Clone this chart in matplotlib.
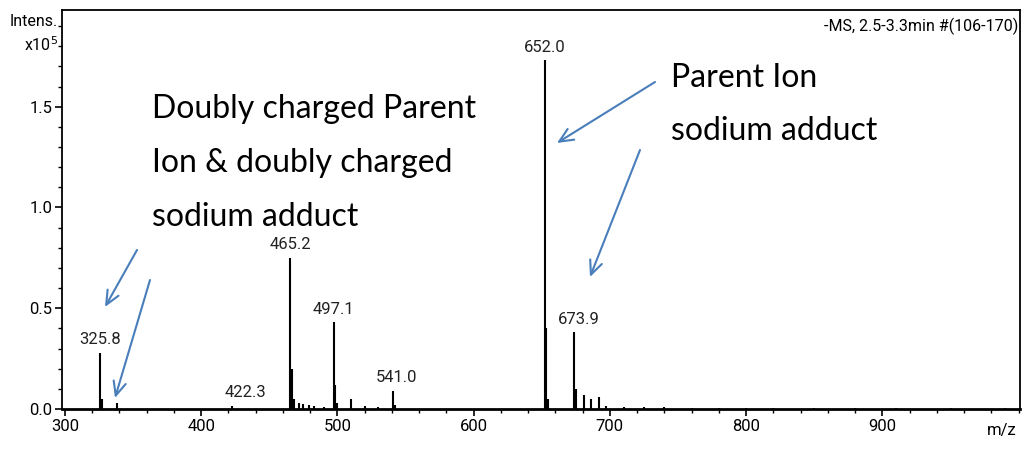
import matplotlib
matplotlib.use("Agg")
import matplotlib.pyplot as plt
from matplotlib.ticker import MultipleLocator

# spectrum sticks (m/z, intensity x10^5)
mz = [325.8, 327.2, 338.0, 422.3, 465.2, 466.4, 468.0, 472.0, 475.0, 479.0, 483.0, 490.0,
      497.1, 498.4, 500.0, 510.0, 520.0, 530.0, 541.0, 542.2, 652.0, 653.1, 654.5,
      673.9, 675.0, 681.0, 686.0, 692.0, 697.0, 710.0, 725.0, 740.0, 760.0, 780.0,
      800.0, 820.0, 850.0, 880.0, 910.0, 950.0, 990.0]
intens = [0.28, 0.05, 0.03, 0.015, 0.75, 0.2, 0.05, 0.03, 0.025, 0.02, 0.015, 0.01,
          0.43, 0.12, 0.03, 0.05, 0.015, 0.01, 0.09, 0.02, 1.73, 0.4, 0.05,
          0.38, 0.1, 0.07, 0.05, 0.06, 0.015, 0.01, 0.008, 0.008, 0.006, 0.006,
          0.005, 0.005, 0.005, 0.004, 0.004, 0.004, 0.004]

# peak labels
lab_mz = [325.8, 422.3, 465.2, 497.1, 541.0, 652.0, 673.9]
lab_int = [0.28, 0.015, 0.75, 0.43, 0.09, 1.73, 0.38]
lab_txt = ["325.8", "422.3", "465.2", "497.1", "541.0", "652.0", "673.9"]
lab_dx = [0, 10, 0, 0, 2, 0, 3]

xticks = [300, 400, 500, 600, 700, 800, 900]
yticks = [0.0, 0.5, 1.0, 1.5]

W, H = 1026, 449
fig = plt.figure(figsize=(W / 100, H / 100), dpi=100)
ax = fig.add_axes([62 / W, 1 - 409 / H, (1020 - 62) / W, (409 - 10) / H])

narrow = ["Roboto", "DejaVu Sans"]
blue = "#4A7EBB"

ax.vlines(mz, 0, intens, color="black", lw=1.5)
ax.set_xlim(297.8, 1001)
ax.set_ylim(0, 1.98)

for x, y, t, dx in zip(lab_mz, lab_int, lab_txt, lab_dx):
    ax.annotate(t, (x, y), xytext=(dx, 4), textcoords="offset points",
                ha="center", va="bottom", fontsize=12, family=narrow, color="#222222")

ax.xaxis.set_minor_locator(MultipleLocator(20))
ax.yaxis.set_minor_locator(MultipleLocator(0.1))
ax.set_xticks(xticks)
ax.set_yticks(yticks)
ax.set_xticklabels([str(v) for v in xticks], family=narrow, fontsize=12)
ax.set_yticklabels(["%.1f" % v for v in yticks], family=narrow, fontsize=12)
ax.tick_params(which="major", direction="out", length=5, width=1.2, pad=2)
ax.tick_params(which="minor", direction="out", length=3, width=1)
for s in ax.spines.values():
    s.set_linewidth(1.3)
ax.spines["bottom"].set_linewidth(2)

ax.text(0.998, 0.96, "-MS, 2.5-3.3min #(106-170)", transform=ax.transAxes,
        ha="right", va="center", fontsize=11.5, family=narrow)
ax.text(0.996, -0.035, "m/z", transform=ax.transAxes, ha="right", va="top",
        fontsize=12, family=narrow)


def px(x, y):
    return (x / W, 1 - y / H)


fig.text(*px(58, 22), "Intens.", ha="right", va="center", fontsize=11.5, family=narrow)
fig.text(*px(58, 45), r"x10$^5$", ha="right", va="center", fontsize=11.5, family=narrow)

note_font = ["Lato", "DejaVu Sans"]
left_lines = ["Doubly charged Parent", "Ion & doubly charged", "sodium adduct"]
for i, line in enumerate(left_lines):
    fig.text(*px(152, 118 + 54 * i), line, ha="left", va="baseline",
             fontsize=23, family=note_font)
right_lines = ["Parent Ion", "sodium adduct"]
for i, line in enumerate(right_lines):
    fig.text(*px(671, 87 + 53 * i), line, ha="left", va="baseline",
             fontsize=23, family=note_font)

arrows = [((137, 250), (105, 307)), ((150, 280), (115, 398)),
          ((655, 82), (557, 143)), ((640, 150), (590, 277))]
for tail, head in arrows:
    fig.add_artist(matplotlib.patches.FancyArrowPatch(
        px(*tail), px(*head), transform=fig.transFigure,
        arrowstyle="->,head_length=10,head_width=4.5", color=blue, lw=1.5,
        shrinkA=0, shrinkB=0))

fig.savefig("out.png", dpi=100)
